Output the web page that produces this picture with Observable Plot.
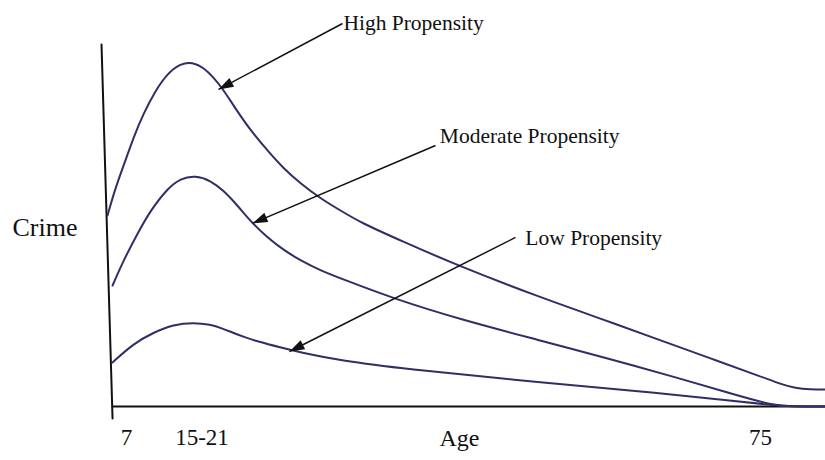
<!DOCTYPE html>
<html>
<head>
<meta charset="utf-8">
<script src="https://cdn.jsdelivr.net/npm/d3@7"></script>
<script src="https://cdn.jsdelivr.net/npm/@observablehq/plot@0.6"></script>
<style>
  html, body { margin: 0; padding: 0; background: #ffffff; }
  svg { display: block; }
</style>
</head>
<body>
<div id="chart"></div>
<script>
// ---- Data (abstract units: x = age position 0..100, y = crime level 0..100) ----
const highAge   = [0.97, 2.07, 3.45, 4.55, 5.93, 7.59, 9.24, 11.03, 12.69, 14.21, 15.59, 16.83, 18.34, 20.69, 23.03, 25.24, 27.59, 30.34, 33.10, 35.86, 41.38, 49.24, 60.69, 68.97, 77.66, 84.55, 91.45, 93.79, 95.86, 97.93, 100];
const highCrime = [52.76, 60.50, 67.96, 74.31, 80.94, 87.29, 91.99, 94.75, 95.17, 93.65, 90.88, 87.85, 83.15, 76.24, 70.72, 65.75, 61.60, 57.46, 54.14, 50.83, 45.86, 38.95, 30.11, 24.31, 17.96, 12.98, 8.01, 6.22, 5.03, 4.70, 4.70];

const modAge    = [1.66, 3.17, 5.10, 6.90, 9.24, 11.03, 13.10, 15.17, 16.97, 18.90, 20.97, 23.03, 25.24, 27.59, 30.34, 33.52, 40.41, 49.66, 60.69, 68.97, 80.00, 86.90, 92.83, 95.17, 100];
const modCrime  = [33.43, 40.33, 47.79, 54.14, 60.22, 62.98, 63.81, 62.43, 59.67, 55.52, 50.55, 46.69, 43.23, 40.33, 37.57, 35.08, 29.83, 24.03, 18.23, 13.81, 7.73, 3.59, 0.28, 0, 0];

const lowAge    = [1.66, 4.55, 7.31, 10.07, 12.83, 15.17, 16.83, 18.34, 20.00, 21.66, 24.83, 27.59, 33.10, 41.38, 60.69, 77.66, 86.90, 93.10, 95.17, 100];
const lowCrime  = [12.15, 17.40, 20.44, 22.65, 23.20, 22.65, 21.55, 20.30, 19.06, 17.96, 16.30, 14.92, 12.71, 10.50, 6.63, 3.59, 1.66, 0.28, 0, 0];

// axes (hand-drawn style: slanted vertical axis)
const yAxisX = [0.14, 1.66], yAxisY = [100, -3.3];
const xAxisX = [1.66, 100],  xAxisY = [0, 0];

// annotations
const labelText = ["High Propensity", "Moderate Propensity", "Low Propensity"];
const labelX    = [33.5, 46.8, 58.6];
const labelY    = [103.9, 72.9, 44.5];
const arrowFromX = [33.38, 46.21, 57.24];
const arrowFromY = [105.8, 72.1, 46.7];
const arrowToX   = [16.28, 20.97, 26.07];
const arrowToY   = [87.6, 50.6, 15.2];

// tick labels / axis titles
const tickText = ["7", "15-21", "75"];
const tickX    = [3.59, 14.0, 91.03];
const tickY    = [-10.5, -10.5, -10.5];
const xTitle = "Age",   xTitleX = 49.52, xTitleY = -10.8;
const yTitle = "Crime", yTitleX = -12.14, yTitleY = 47.2;

// ---- Layout ----
const W = 825, H = 460;
const mL = 100, mR = 0, mT = 44, mB = 54;
const xDomain = [0, 100], yDomain = [0, 100];
const curveColor = "#2f2e66";
const font = "Liberation Serif, Times New Roman, serif";

const toRows = (xs, ys) => xs.map((x, i) => ({x, y: ys[i]}));
const series = [
  ...toRows(highAge, highCrime).map(d => ({...d, s: "high"})),
  ...toRows(modAge, modCrime).map(d => ({...d, s: "moderate"})),
  ...toRows(lowAge, lowCrime).map(d => ({...d, s: "low"}))
];

const sx = Plot.scale({x: {domain: xDomain, range: [mL, W - mR]}});
const sy = Plot.scale({y: {domain: yDomain, range: [H - mB, mT]}});

const arrows = arrowFromX.map((x1, i) => {
  const x2 = arrowToX[i], y1 = arrowFromY[i], y2 = arrowToY[i];
  const dx = sx.apply(x2) - sx.apply(x1);
  const dy = sy.apply(y2) - sy.apply(y1);
  return {x1, y1, x2, y2, rot: Math.atan2(dx, -dy) * 180 / Math.PI};
});
const labels = labelText.map((t, i) => ({t, x: labelX[i], y: labelY[i]}));
const ticks = tickText.map((t, i) => ({t, x: tickX[i], y: tickY[i]}));

const chart = Plot.plot({
  width: W, height: H,
  marginLeft: mL, marginRight: mR, marginTop: mT, marginBottom: mB,
  x: {domain: xDomain, axis: null},
  y: {domain: yDomain, axis: null},
  style: {fontFamily: font, background: "#ffffff", color: "#111"},
  marks: [
    Plot.line(toRows(yAxisX, yAxisY), {x: "x", y: "y", stroke: "#111", strokeWidth: 2}),
    Plot.line(toRows(xAxisX, xAxisY), {x: "x", y: "y", stroke: "#111", strokeWidth: 2}),
    Plot.line(series, {x: "x", y: "y", z: "s", stroke: curveColor, strokeWidth: 2, curve: "basis"}),
    Plot.link(arrows, {x1: "x1", y1: "y1", x2: "x2", y2: "y2", stroke: "#111", strokeWidth: 1.5}),
    Plot.vector(arrows, {x: "x2", y: "y2", rotate: "rot", length: 15, r: 5, shape: "spike", anchor: "end", fill: "#111", stroke: "none"}),
    Plot.text(labels, {x: "x", y: "y", text: "t", textAnchor: "start", lineAnchor: "bottom", fontSize: 21.5, fill: "#111"}),
    Plot.text(ticks, {x: "x", y: "y", text: "t", textAnchor: "middle", lineAnchor: "bottom", fontSize: 23, fill: "#111"}),
    Plot.text([xTitle], {x: () => xTitleX, y: () => xTitleY, text: d => d, textAnchor: "middle", lineAnchor: "bottom", fontSize: 24, fill: "#111"}),
    Plot.text([yTitle], {x: () => yTitleX, y: () => yTitleY, text: d => d, textAnchor: "start", lineAnchor: "bottom", fontSize: 26, fill: "#111"})
  ]
});
document.getElementById("chart").appendChild(chart);
</script>
</body>
</html>
